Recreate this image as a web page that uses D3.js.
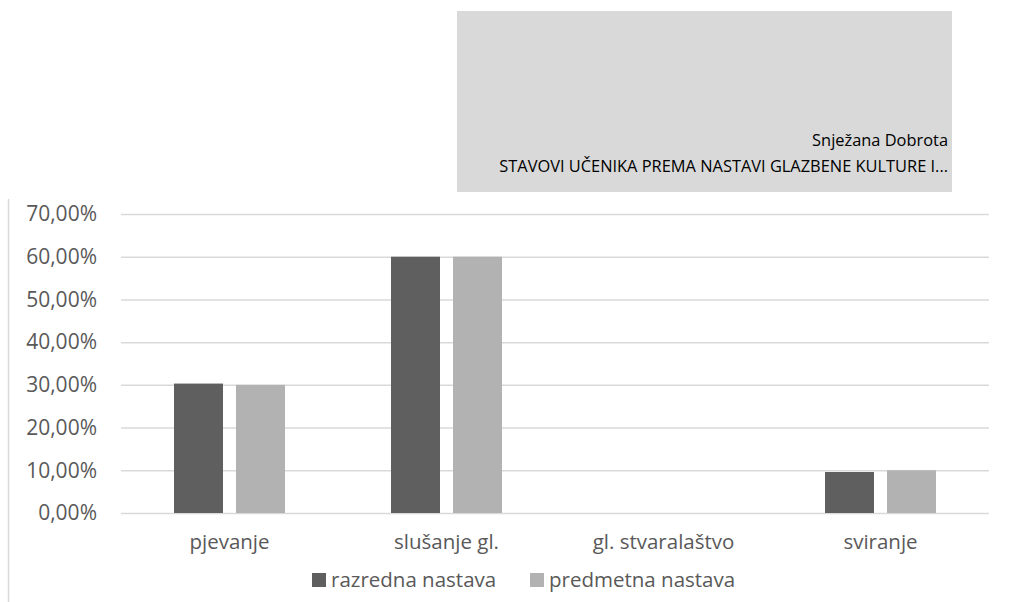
<!DOCTYPE html>
<html>
<head>
<meta charset="utf-8">
<script src="https://cdnjs.cloudflare.com/ajax/libs/d3/7.8.5/d3.min.js"></script>
<style>
  body { margin: 0; background: #fff; }
  text { font-family: "Open Sans", sans-serif; fill: #595959; }
</style>
</head>
<body>
<div class="container"></div>
<script>
const categories = ["pjevanje", "slušanje gl.", "gl. stvaralaštvo", "sviranje"]
const seriesNames = ["razredna nastava", "predmetna nastava"]
const razredna = [30.3, 60.0, 0, 9.6]
const predmetna = [30.0, 60.0, 0, 10.0]
const yTicks = [0, 10, 20, 30, 40, 50, 60, 70]
const titleLines = ["Snježana Dobrota", "STAVOVI UČENIKA PREMA NASTAVI GLAZBENE KULTURE I..."]

const colors = ["#5f5f5f", "#b2b2b2"]
const width = 1010
const height = 602
const margin = { top: 214, bottom: 89, left: 121, right: 21 }

let svg = d3.select(".container")
    .append("svg")
    .attr("width", width)
    .attr("height", height)

// grey header box
svg.append("rect")
    .attr("x", 457).attr("y", 11)
    .attr("width", 495).attr("height", 181)
    .attr("fill", "#d9d9d9")

svg.append("g")
    .selectAll("text")
    .data(titleLines)
    .join("text")
    .attr("x", 948)
    .attr("y", (d, i) => 146 + i * 26)
    .attr("text-anchor", "end")
    .style("font-size", "16.4px")
    .style("fill", "#000")
    .text(d => d)

// left border line
svg.append("line")
    .attr("x1", 8.5).attr("x2", 8.5)
    .attr("y1", 199).attr("y2", height)
    .attr("stroke", "#d9d9d9")
    .attr("stroke-width", 1.5)

let x0 = d3.scaleBand()
    .domain(categories)
    .range([margin.left, width - margin.right])

let x1 = d3.scaleBand()
    .domain(seriesNames)
    .range([(x0.bandwidth() - 111) / 2, (x0.bandwidth() + 111) / 2])
    .paddingInner(0.21)

let yScale = d3.scaleLinear()
    .domain([0, 70])
    .range([height - margin.bottom, margin.top])

// grid
svg.append("g")
    .attr("transform", `translate(${margin.left}, 0)`)
    .call(d3.axisLeft(yScale)
        .tickValues(yTicks)
        .tickSize(-(width - margin.left - margin.right))
        .tickPadding(24)
        .tickFormat(d => d.toFixed(2).replace(".", ",") + "%"))
    .call(g => g.select(".domain").remove())
    .call(g => g.selectAll("line").attr("stroke", "#d9d9d9").attr("stroke-width", 1.5))
    .call(g => g.selectAll("text").style("font-size", "21px").attr("fill", "#595959"))

let rows = categories.map((c, i) => ({ cat: c, vals: [razredna[i], predmetna[i]] }))

svg.append("g")
    .selectAll("g")
    .data(rows)
    .join("g")
    .attr("transform", d => `translate(${x0(d.cat)}, 0)`)
    .selectAll("rect")
    .data(d => d.vals.map((v, j) => ({ name: seriesNames[j], v: v, j: j })))
    .join("rect")
    .attr("x", d => x1(d.name))
    .attr("width", x1.bandwidth())
    .attr("y", d => yScale(d.v))
    .attr("height", d => yScale(0) - yScale(d.v))
    .attr("fill", d => colors[d.j])

// x axis labels
svg.append("g")
    .attr("transform", `translate(0, ${height - margin.bottom})`)
    .call(d3.axisBottom(x0).tickSize(0).tickPadding(21))
    .call(g => g.select(".domain").remove())
    .call(g => g.selectAll("text").style("font-size", "20.5px").attr("fill", "#595959"))

// legend
let legendX = [312, 530]
let legend = svg.append("g")
    .selectAll("g")
    .data(seriesNames)
    .join("g")
    .attr("transform", (d, i) => `translate(${legendX[i]}, 580)`)
legend.append("rect")
    .attr("x", 0).attr("y", -7)
    .attr("width", 14).attr("height", 14)
    .attr("fill", (d, i) => colors[i])
legend.append("text")
    .attr("x", 19)
    .attr("dy", "0.35em")
    .style("font-size", "20.5px")
    .text(d => d)
</script>
</body>
</html>
